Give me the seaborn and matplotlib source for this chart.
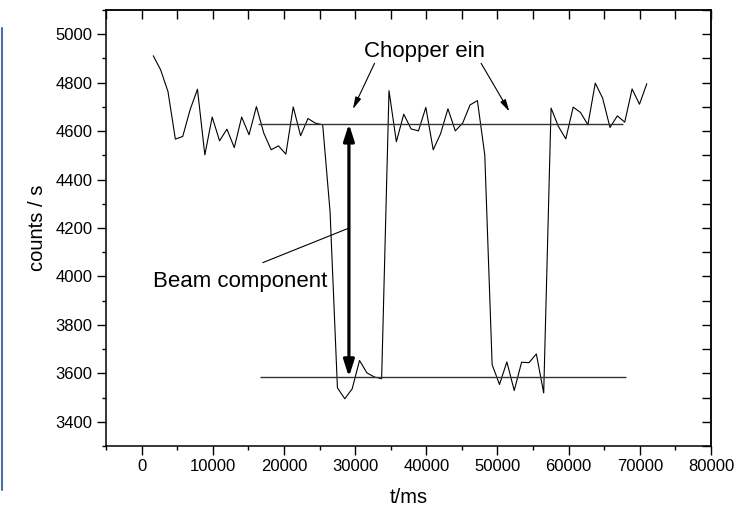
import matplotlib
matplotlib.use("Agg")
import matplotlib.pyplot as plt
import pandas as pd
import seaborn as sns
from matplotlib.lines import Line2D
from matplotlib.ticker import MultipleLocator, FormatStrFormatter

# Count rate over time, chopper cycling on/off
time_ms = [1640, 2675, 3710, 4745, 5780, 6815, 7850, 8885, 9920, 10955,
           11990, 13025, 14060, 15095, 16130, 17165, 18200, 19235, 20270, 21305,
           22340, 23375, 24410, 25445, 26480, 27515, 28550, 29585, 30620, 31655,
           32690, 33725, 34760, 35795, 36830, 37865, 38900, 39935, 40970, 42005,
           43040, 44075, 45110, 46145, 47180, 48215, 49250, 50285, 51320, 52355,
           53390, 54425, 55460, 56495, 57530, 58565, 59600, 60635, 61670, 62705,
           63740, 64775, 65810, 66845, 67880, 68915, 69950, 70985]
counts = [4911, 4853, 4763, 4567, 4578, 4688, 4773, 4502, 4658, 4560,
          4608, 4532, 4658, 4585, 4701, 4592, 4523, 4539, 4505, 4700,
          4581, 4652, 4633, 4626, 4267, 3540, 3495, 3536, 3653, 3602,
          3585, 3578, 4767, 4556, 4670, 4609, 4601, 4698, 4523, 4589,
          4692, 4601, 4633, 4708, 4726, 4502, 3636, 3554, 3647, 3529,
          3646, 3644, 3680, 3519, 4695, 4619, 4568, 4699, 4677, 4626,
          4798, 4736, 4615, 4663, 4637, 4774, 4711, 4796]

# Reference levels (chopper open / closed) and their extent in time
level_on = 4630
level_off = 3585
on_span = [16300, 67700]
off_span = [16700, 68000]
beam_time = 29130

# Annotation anchors (data coordinates)
chopper_label = (39800, 4906)
chopper_arrows = [((32730, 4880), (29690, 4691)),
                  ((47700, 4880), (51670, 4681))]
beam_label = (1600, 3979)
beam_leader = ([17030, 28990], [4057, 4198])

sns.set_theme(style="ticks")
plt.rcParams["font.family"] = ["Liberation Sans", "DejaVu Sans"]
plt.rcParams["axes.linewidth"] = 1.1

W, H = 739, 512
fig = plt.figure(figsize=(W / 100, H / 100), dpi=100)
ax = fig.add_axes([106 / W, 1 - 446 / H, (711 - 106) / W, (446 - 10) / H])

df = pd.DataFrame({"t": time_ms, "counts": counts})
sns.lineplot(data=df, x="t", y="counts", color="black", linewidth=0.8,
             estimator=None, ax=ax)

ax.hlines(level_on, on_span[0], on_span[1], color="#333333", lw=1.0)
ax.hlines(level_off, off_span[0], off_span[1], color="#333333", lw=1.0)

# Double-headed arrow marking the beam component
ax.annotate("", xy=(beam_time, level_off), xytext=(beam_time, level_on),
            arrowprops=dict(arrowstyle="<|-|>,head_length=0.5,head_width=0.16",
                            mutation_scale=20, lw=2.3, color="black",
                            shrinkA=0, shrinkB=0))

ax.text(*chopper_label, "Chopper ein", ha="center", va="baseline",
        fontsize=16, color="black")
for start, tip in chopper_arrows:
    ax.annotate("", xy=tip, xytext=start,
                arrowprops=dict(arrowstyle="-|>,head_length=0.6,head_width=0.15",
                                mutation_scale=12, lw=0.8, color="black",
                                shrinkA=0, shrinkB=0))

ax.text(*beam_label, "Beam component", ha="left", va="center",
        fontsize=16, color="black")
ax.plot(*beam_leader, color="black", lw=0.8)

ax.set_xlim(-5000, 80000)
ax.set_ylim(3300, 5100)
ax.xaxis.set_major_locator(MultipleLocator(10000))
ax.xaxis.set_minor_locator(MultipleLocator(5000))
ax.yaxis.set_major_locator(MultipleLocator(200))
ax.yaxis.set_minor_locator(MultipleLocator(100))
ax.xaxis.set_major_formatter(FormatStrFormatter("%d"))
ax.yaxis.set_major_formatter(FormatStrFormatter("%d"))
ax.tick_params(which="major", direction="out", length=6.5, width=1.0,
               labelsize=12, pad=3, colors="black")
ax.tick_params(which="minor", direction="out", length=3.2, width=1.0,
               colors="black")
ax.set_xlabel("t/ms", fontsize=14.5, labelpad=10, color="black")
ax.set_ylabel("counts / s", fontsize=14.5, labelpad=6, color="black")
for s in ax.spines.values():
    s.set_color("black")
    s.set_linewidth(1.1)

# Mirrored inward ticks on top and right
top = ax.secondary_xaxis("top")
top.xaxis.set_major_locator(MultipleLocator(10000))
top.xaxis.set_minor_locator(MultipleLocator(5000))
top.tick_params(which="both", direction="in", length=6.5, width=1.0,
                labeltop=False, colors="black")
right = ax.secondary_yaxis("right")
right.yaxis.set_major_locator(MultipleLocator(200))
right.yaxis.set_minor_locator(MultipleLocator(100))
right.tick_params(which="both", direction="in", length=6.5, width=1.0,
                  labelright=False, colors="black")

# Thin blue rule at the left edge of the figure
fig.add_artist(Line2D([2 / W, 2 / W], [1 - 28 / H, 1 - 490 / H],
                      color="#4a6fa8", lw=1.5, transform=fig.transFigure))

fig.savefig("out.png", dpi=100)
